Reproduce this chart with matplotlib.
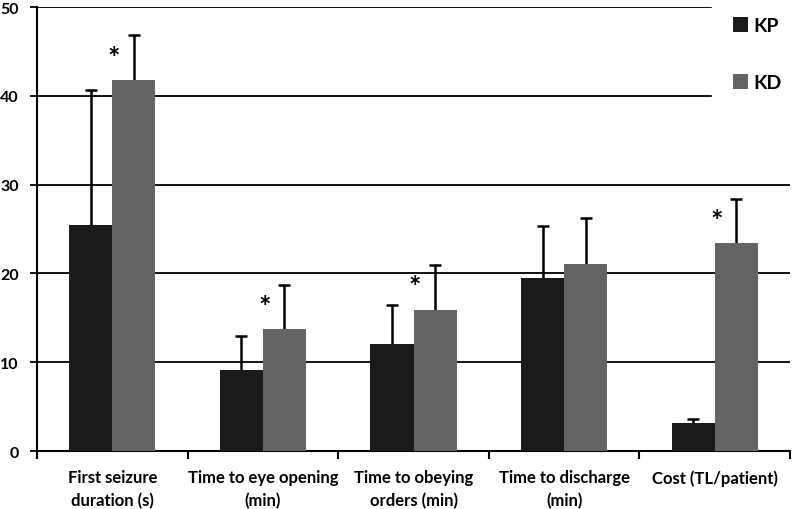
import numpy as np
import matplotlib.pyplot as plt

plt.rcParams['font.family'] = ['Lato', 'DejaVu Sans']

# Data
categories = ["First seizure\nduration (s)", "Time to eye opening\n(min)",
              "Time to obeying\norders (min)", "Time to discharge\n(min)",
              "Cost (TL/patient)"]
kp_mean = [25.4, 9.1, 12.0, 19.5, 3.2]
kp_err = [15.2, 3.9, 4.4, 5.8, 0.45]
kd_mean = [41.8, 13.7, 15.9, 21.1, 23.4]
kd_err = [5.0, 5.0, 5.1, 5.1, 5.0]
significant = [True, True, True, False, True]

x = np.arange(len(categories))
w = 0.286

fig = plt.figure(figsize=(7.92, 5.10), dpi=100)
ax = fig.add_axes([0.0467, 0.1137, 0.9508, 0.8706])

ax.bar(x - w / 2, kp_mean, w, color="#1a1a1a", label="KP", zorder=3)
ax.bar(x + w / 2, kd_mean, w, color="#646464", label="KD", zorder=3)
# symmetric error bars drawn behind the bars, so only the upper half shows
ax.errorbar(x - w / 2, kp_mean, yerr=kp_err, fmt="none",
            ecolor="black", elinewidth=1.8, capsize=4, capthick=1.8, zorder=2.5)
ax.errorbar(x + w / 2, kd_mean, yerr=kd_err, fmt="none",
            ecolor="black", elinewidth=1.8, capsize=4, capthick=1.8, zorder=2.5)

# significance markers
for i, sig in enumerate(significant):
    if sig:
        ax.text(x[i] + 0.01, kd_mean[i] + kd_err[i] - 2.5, "*", ha="center", va="center",
                fontsize=21, fontweight="bold", zorder=5)

ax.set_xlim(-0.5, len(x) - 0.5)
ax.set_ylim(0, 50)
ax.set_yticks([0, 10, 20, 30, 40, 50])
ax.set_xticks(np.arange(-0.5, len(x)), minor=False)
ax.set_xticklabels([])
ax.set_xticks(x, minor=True)
ax.set_xticklabels(categories, minor=True, fontsize=12, fontweight="bold", linespacing=1.5)
ax.tick_params(axis="x", which="major", length=6, width=1.5, direction="out")
ax.tick_params(axis="x", which="minor", length=0, pad=13)
ax.tick_params(axis="y", length=5, width=1.3, labelsize=11.5, pad=8)
for lbl in ax.get_yticklabels():
    lbl.set_fontweight("bold")

ax.yaxis.grid(True, color="black", lw=1.3)
ax.set_axisbelow(True)
for s in ["top", "right"]:
    ax.spines[s].set_visible(False)
for s in ["left", "bottom"]:
    ax.spines[s].set_linewidth(1.5)

leg = ax.legend(loc="upper right", bbox_to_anchor=(1.014, 1.006), bbox_transform=fig.transFigure,
                frameon=True, fancybox=False, framealpha=1, edgecolor="white",
                handlelength=0.75, handleheight=0.75, handletextpad=0.3,
                labelspacing=2.05, borderpad=1.1, borderaxespad=0,
                prop={"size": 14, "weight": "bold"})
leg.set_zorder(6)

fig.savefig("out.png", dpi=100)
